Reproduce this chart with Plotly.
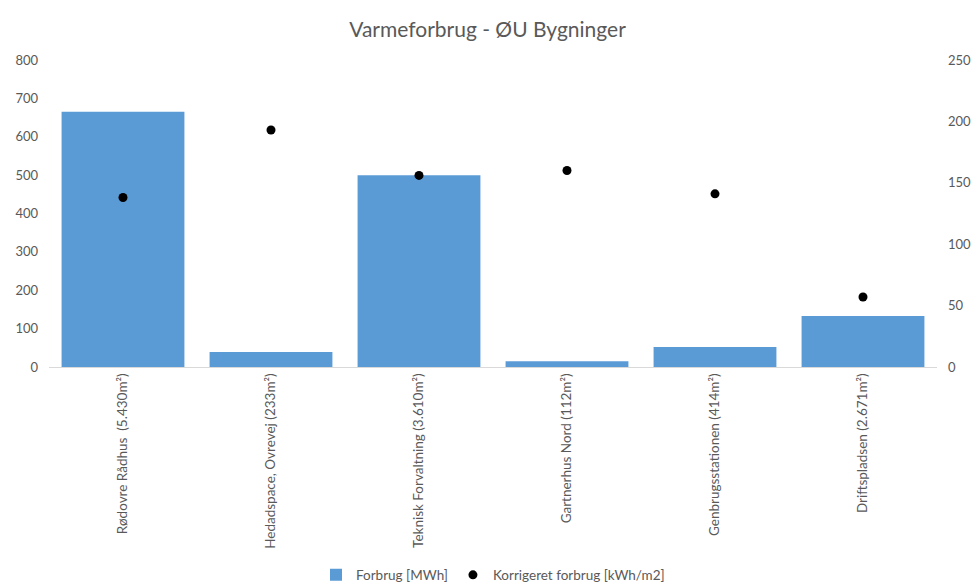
import plotly.graph_objects as go

categories = [
    "Rødovre Rådhus  (5.430m²)",
    "Hedadspace, Ovrevej (233m²)",
    "Teknisk Forvaltning (3.610m²)",
    "Gartnerhus Nord (112m²)",
    "Genbrugsstationen (414m²)",
    "Driftspladsen (2.671m²)",
]
forbrug_mwh = [665, 39, 500, 15, 52, 133]
korrigeret_kwh_m2 = [138, 193, 156, 160, 141, 57]

left_ticks = list(range(0, 801, 100))
right_ticks = list(range(0, 251, 50))

font_family = "Lato, 'Open Sans', sans-serif"
grey = "#595959"

fig = go.Figure()
fig.add_trace(go.Bar(
    x=categories, y=forbrug_mwh, name="Forbrug [MWh]",
    marker=dict(color="#5B9BD5", line=dict(width=0)),
    yaxis="y",
))
fig.add_trace(go.Scatter(
    x=categories, y=korrigeret_kwh_m2, name="Korrigeret forbrug [kWh/m2]",
    mode="markers", marker=dict(color="black", size=9, symbol="circle"),
    yaxis="y2",
))

fig.update_layout(
    width=975, height=585,
    paper_bgcolor="white", plot_bgcolor="white",
    font=dict(family=font_family, color=grey, size=13),
    title=dict(text="Varmeforbrug - ØU Bygninger", x=0.5, xanchor="center",
               y=0.949, yanchor="middle",
               font=dict(size=21, color=grey, family=font_family)),
    margin=dict(l=49, r=38, t=60, b=218),
    bargap=0.17,
    showlegend=True,
    legend=dict(orientation="h", x=0.5, xanchor="center", yref="container",
                y=0.017, yanchor="middle", font=dict(size=13.5, color=grey),
                itemwidth=30, traceorder="normal"),
    xaxis=dict(
        tickangle=-90, showgrid=False, showline=True, linecolor="#D9D9D9",
        linewidth=1, ticks="", tickfont=dict(size=13.5, color=grey),
        automargin=False,
    ),
    yaxis=dict(
        range=[0, 800], tickvals=left_ticks, showgrid=False, zeroline=False,
        showline=False, ticks="", tickfont=dict(size=13, color=grey),
        ticklabelstandoff=10, automargin=False,
    ),
    yaxis2=dict(
        range=[0, 250], tickvals=right_ticks, overlaying="y", side="right",
        showgrid=False, zeroline=False, showline=False, ticks="",
        tickfont=dict(size=13, color=grey), ticklabelstandoff=10,
        automargin=False,
    ),
)

fig.write_html(
    "out.html",
    config={"displayModeBar": False},
    post_script="document.body.style.margin='0';document.body.style.overflow='hidden';",
)
